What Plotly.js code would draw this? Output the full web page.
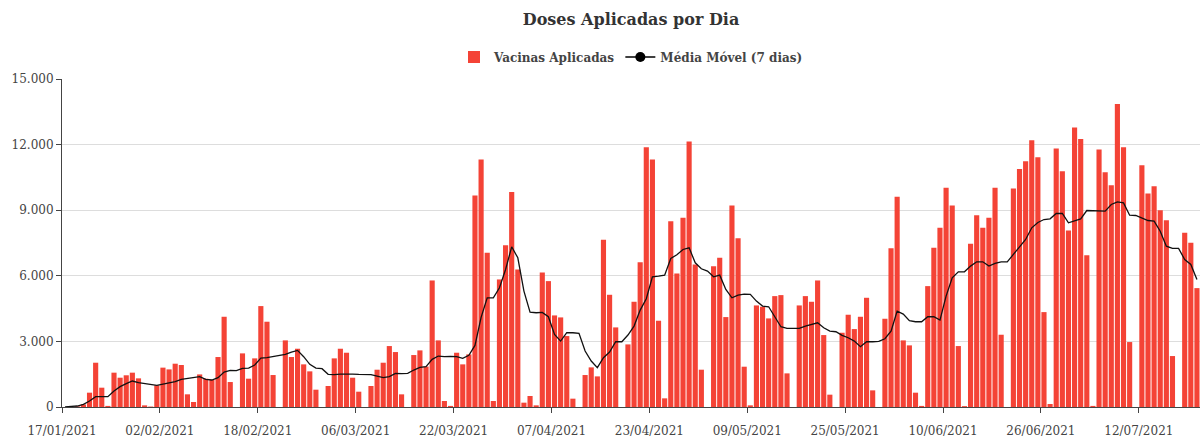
<!DOCTYPE html>
<html>
<head>
<meta charset="utf-8">
<script src="https://cdn.plot.ly/plotly-3.0.1.min.js"></script>
<style>html,body{margin:0;padding:0;background:#fff;}#chart{width:1201px;height:439px;}</style>
</head>
<body>
<div id="chart"></div>
<script>
// First day of the series and number of days (categories)
const startDate = "2021-01-17";
const dayCount = 186;

// Vacinas Aplicadas (doses per day)
const vacinasAplicadas = [
  0,10,30,120,655,2025,883,50,1570,1340,
  1450,1570,1310,75,20,990,1800,1720,1980,1920,
  580,230,1490,1295,1234,2285,4127,1142,0,2452,
  1295,2224,4615,3900,1462,0,3046,2285,2665,1950,
  1630,792,0,960,2224,2665,2482,1340,700,0,
  960,1706,2025,2787,2513,579,0,2376,2589,1850,
  5787,3046,274,50,2482,1950,2406,9671,11316,7051,
  274,5833,7400,9838,6290,198,503,76,6153,5757,
  4188,4097,3244,381,0,1462,1812,1400,7645,5132,
  3640,0,2863,4813,6625,11880,11316,3945,396,8498,
  6107,8650,12138,6518,1706,0,6442,6823,4112,9214,
  7722,1843,76,4645,4584,4051,5071,5117,1538,0,
  4645,5071,4813,5787,3290,564,0,3396,4219,3564,
  4127,4995,761,0,4036,7265,9610,3046,2818,655,
  50,5528,7280,8194,10021,9214,2787,40,7463,8772,
  8194,8650,10021,3305,0,9991,10889,11240,12199,11423,
  4340,137,11819,10783,8072,12778,12260,6945,50,11773,
  10737,10143,13860,11880,2970,0,11057,9762,10097,9001,
  8544,2330,0,7965,7508,5437
];

// Média Móvel (7 dias)
const mediaMovel = [
  10,15,45,120,275,470,470,470,730,930,
  1066,1188,1112,1066,1050,990,1050,1097,1157,1264,
  1310,1355,1386,1264,1234,1340,1600,1675,1660,1767,
  1782,1919,2239,2254,2300,2330,2406,2513,2589,2300,
  1950,1782,1751,1493,1477,1508,1523,1508,1493,1493,
  1477,1416,1340,1386,1538,1523,1538,1690,1812,1843,
  2178,2330,2300,2315,2300,2224,2361,2818,4100,4995,
  4995,5452,6290,7326,6823,5300,4341,4310,4325,4127,
  3320,3015,3396,3396,3366,2559,2102,1797,2254,2513,
  2985,2985,3290,3700,4432,4950,5955,5985,6031,6793,
  6960,7204,7280,6595,6320,6214,5955,6031,5376,4995,
  5117,5163,5148,4843,4615,4584,4158,3670,3594,3579,
  3594,3700,3777,3853,3625,3472,3442,3274,3168,3015,
  2757,2985,2985,3000,3122,3472,4386,4249,3945,3899,
  3899,4127,4127,3975,5071,5909,6183,6183,6442,6640,
  6640,6442,6564,6640,6640,6975,7280,7661,8194,8440,
  8574,8605,8849,8849,8422,8498,8605,8986,8986,8970,
  8955,9260,9382,9336,8772,8757,8650,8529,8498,8041,
  7356,7250,7250,6747,6518,5833
];

// Axis ticks
const yTickValues = [0, 3000, 6000, 9000, 12000, 15000];
const xTickDays = 16;

// Build the date categories
const dates = [];
const t0 = Date.parse(startDate + "T00:00:00Z");
for (let i = 0; i < dayCount; i++) {
  dates.push(new Date(t0 + i * 86400000).toISOString().slice(0, 10));
}
const xEnd = new Date(t0 + dayCount * 86400000).toISOString().slice(0, 10);

const FONT = "DejaVu Serif";

const traces = [
  {
    type: "bar",
    name: "Vacinas Aplicadas",
    x: dates,
    y: vacinasAplicadas,
    xperiod: 86400000,
    xperiodalignment: "middle",
    marker: { color: "#F44336", line: { width: 0 } },
    hoverinfo: "x+y"
  },
  {
    type: "scatter",
    mode: "lines",
    name: "Média Móvel (7 dias)",
    x: dates,
    y: mediaMovel,
    xperiod: 86400000,
    xperiodalignment: "middle",
    line: { color: "#111", width: 1.3 },
    showlegend: false
  },
  {
    type: "scatter",
    mode: "lines+markers",
    name: "Média Móvel (7 dias)",
    x: [null],
    y: [null],
    line: { color: "#000", width: 1.3 },
    marker: { color: "#000", size: 10 },
    showlegend: true
  }
];

const layout = {
  width: 1201,
  height: 439,
  margin: { l: 62, r: 1, t: 79, b: 32 },
  paper_bgcolor: "#fff",
  plot_bgcolor: "#fff",
  separators: ",.",
  font: { family: FONT, color: "#444", size: 12 },
  bargap: 0.16,
  title: {
    text: "Doses Aplicadas por Dia",
    font: { family: FONT, size: 16, color: "#333", weight: "bold" },
    x: 0.5, xref: "paper", xanchor: "center",
    y: 0.955, yref: "container", yanchor: "middle"
  },
  showlegend: true,
  legend: {
    orientation: "h",
    x: 0.5, xanchor: "center",
    y: 1.067, yanchor: "middle",
    font: { family: FONT, size: 12, color: "#444", weight: "bold" },
    traceorder: "normal"
  },
  xaxis: {
    type: "date",
    range: [startDate, xEnd],
    tick0: startDate,
    dtick: xTickDays * 86400000,
    tickformat: "%d/%m/%Y",
    showgrid: false,
    zeroline: false,
    showline: true,
    linecolor: "#444",
    linewidth: 1,
    ticks: "outside",
    ticklen: 5,
    tickcolor: "#444",
    ticklabelstandoff: 8,
    tickfont: { family: FONT, size: 12, color: "#444" },
    fixedrange: true
  },
  yaxis: {
    range: [0, 15000],
    tickvals: yTickValues,
    separatethousands: true,
    tickformat: ",d",
    showgrid: true,
    gridcolor: "#ddd",
    gridwidth: 1,
    zeroline: false,
    showline: true,
    linecolor: "#444",
    linewidth: 1,
    ticks: "outside",
    ticklen: 5,
    tickcolor: "#444",
    tickfont: { family: FONT, size: 12, color: "#444" },
    fixedrange: true
  }
};

Plotly.newPlot("chart", traces, layout, { displayModeBar: false, staticPlot: true });
</script>
</body>
</html>
